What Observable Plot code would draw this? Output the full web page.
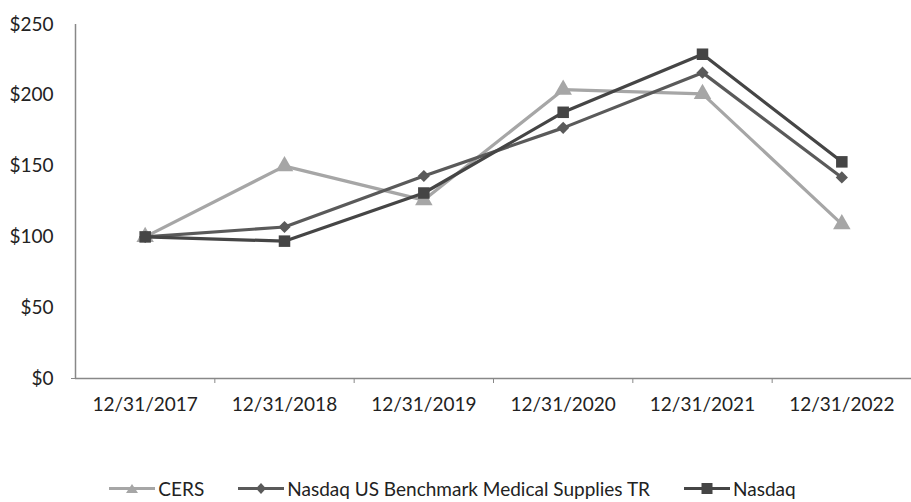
<!DOCTYPE html>
<html>
<head>
<meta charset="utf-8">
<script src="https://cdn.jsdelivr.net/npm/d3@7"></script>
<script src="https://cdn.jsdelivr.net/npm/@observablehq/plot@0.6"></script>
<style>
  html, body { margin: 0; padding: 0; background: #fff; }
  body { width: 911px; height: 502px; overflow: hidden; font-family: Lato, "Open Sans", sans-serif; }
  #legend { display: flex; justify-content: center; align-items: center; height: 62px; box-sizing: border-box; padding-top: 34px; padding-right: 6px; font-size: 19px; color: #222; }
  .item { display: flex; align-items: center; margin: 0 17px; }
  .item svg { margin-right: 3px; }
</style>
</head>
<body>
<div id="chart"></div>
<div id="legend"></div>
<script>
const dates = ["12/31/2017", "12/31/2018", "12/31/2019", "12/31/2020", "12/31/2021", "12/31/2022"];
const seriesNames = ["CERS", "Nasdaq US Benchmark Medical Supplies TR", "Nasdaq"];
const cers = [100, 150, 126, 204, 201, 109];
const medical = [100, 107, 143, 177, 216, 142];
const nasdaq = [100, 97, 131, 188, 229, 153];
const yTicks = [0, 50, 100, 150, 200, 250];

const colors = ["#a6a6a6", "#5a5a5a", "#454545"];
const symbols = ["triangle", "diamond2", "square"];
const values = [cers, medical, nasdaq];

const data = [];
values.forEach((vals, s) => vals.forEach((v, i) => data.push({series: seriesNames[s], i, date: dates[i], value: v})));

const marks = [
  Plot.axisY({ticks: yTicks, tickFormat: d => "$" + d, tickSize: 0, tickPadding: 22, fontSize: 19, color: "#222", label: null}),
  Plot.axisY({ticks: [0], tickFormat: () => "", tickSize: 4, stroke: "#888", label: null}),
  Plot.axisX({ticks: d3.range(6), tickFormat: i => dates[i], tickSize: 0, tickPadding: 19, fontSize: 19, color: "#222", label: null}),
  Plot.axisX({ticks: [0.5, 1.5, 2.5, 3.5, 4.5], tickFormat: () => "", tickSize: 5, stroke: "#888", label: null}),
  Plot.ruleX([-0.5], {y1: 0, y2: 250, stroke: "#888", strokeWidth: 1.5}),
  Plot.ruleY([0], {x1: -0.5, x2: 5.5, stroke: "#888", strokeWidth: 1.5})
];
seriesNames.forEach((name, s) => {
  const d = data.filter(r => r.series === name);
  marks.push(Plot.line(d, {x: "i", y: "value", stroke: colors[s], strokeWidth: 3.2}));
  marks.push(Plot.dot(d, {x: "i", y: "value", fill: colors[s], symbol: symbols[s], r: s === 1 ? 5.5 : 6.5}));
});

const chart = Plot.plot({
  width: 911,
  height: 440,
  marginLeft: 75,
  marginRight: 0,
  marginTop: 24,
  marginBottom: 62,
  style: {fontFamily: "Lato, 'Open Sans', sans-serif", background: "#fff"},
  x: {type: "linear", domain: [-0.5, 5.5], axis: null},
  y: {domain: [0, 250], axis: null},
  marks
});
document.getElementById("chart").appendChild(chart);

// legend
const legend = document.getElementById("legend");
const symPaths = {
  triangle: "M23,4 L29,13 L17,13 Z",
  diamond2: "M23,3 L28,8.5 L23,14 L18,8.5 Z",
  square: "M17.5,3 L28.5,3 L28.5,14 L17.5,14 Z"
};
seriesNames.forEach((name, s) => {
  const item = document.createElement("div");
  item.className = "item";
  item.innerHTML = `<svg width="46" height="17" viewBox="0 0 46 17"><line x1="0" y1="8.5" x2="46" y2="8.5" stroke="${colors[s]}" stroke-width="3.2"/><path d="${symPaths[symbols[s]]}" fill="${colors[s]}"/></svg><span>${name}</span>`;
  legend.appendChild(item);
});
</script>
</body>
</html>
